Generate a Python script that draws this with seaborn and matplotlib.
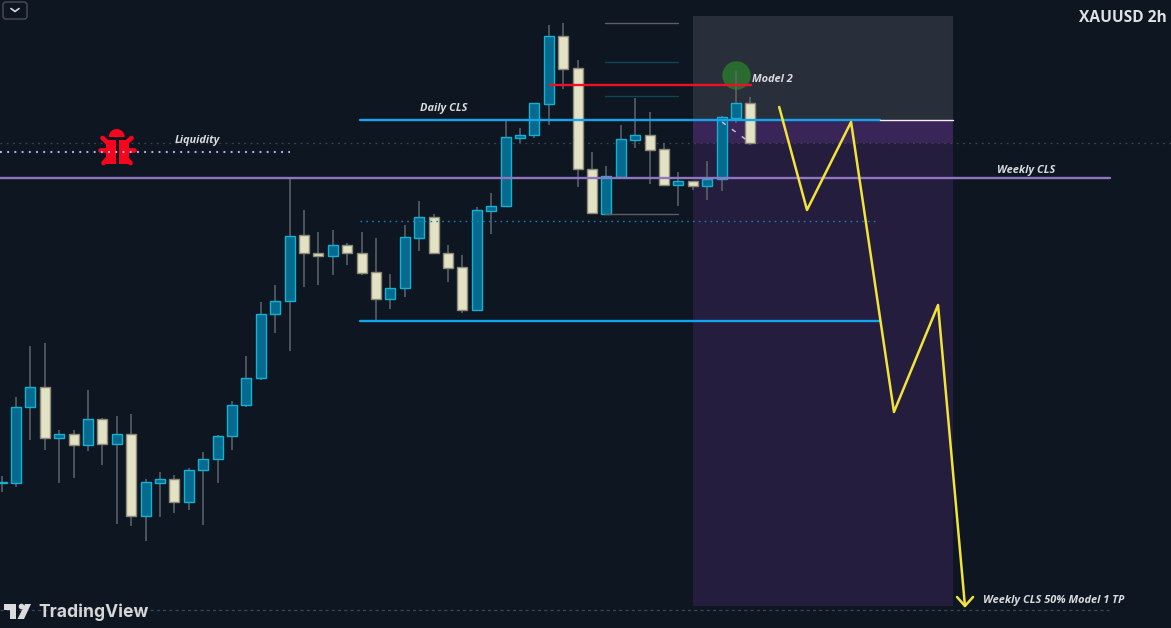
import pandas as pd
import matplotlib.pyplot as plt
import seaborn as sns
from matplotlib.patches import Rectangle, Wedge, Polygon, FancyBboxPatch

# candles (chart level grows downwards, like the screen)
body_top = [482, 406.7, 387, 386.7, 433.7, 433.7, 419.3, 419.3, 433.7, 433.7, 482.3, 478.7, 478.7, 470,
            459.3, 435.7, 405, 378.3, 314, 301.3, 235.7, 235.3, 252.7, 245.3, 245.3, 252.7, 272.3, 287.7,
            237.3, 217.3, 217.3, 252.7, 267.3, 210.3, 206, 137.3, 134.7, 103.3, 36.3, 36.3, 68, 168.7,
            176.3, 139.3, 135.3, 135.3, 149.3, 180.7, 180.7, 179, 117.3, 103.3, 103]
body_bot = [483, 482.7, 407, 437.7, 437.7, 445, 444.7, 444, 444, 516, 516, 482.7, 501.7, 501.7,
            470, 459.3, 435.7, 405, 378.3, 314.3, 301.3, 253.3, 255.7, 255.7, 253, 273, 299, 299,
            288, 237.7, 253.3, 267.7, 310, 309.7, 210.7, 206.3, 137.7, 135.3, 103.7, 68.7, 169.3, 213.3,
            213.7, 176.7, 139.7, 149.7, 184.7, 184.7, 185.7, 185.7, 179.3, 117.7, 143.3]
wick_top = [476, 397, 346, 343, 430, 430, 390, 418, 416, 414, 479.3, 472.3, 475, 468,
            452.3, 435, 401, 356, 302.3, 285.3, 178, 210.3, 232, 230.3, 242.7, 232, 238.3, 274,
            225.3, 201.3, 214.3, 245, 255, 207.3, 193, 120, 128.3, 103.3, 25.3, 23.3, 60, 151.7,
            166, 125.3, 98.3, 112.3, 143.3, 171.7, 180.7, 161.3, 116, 70.7, 96.7]
wick_bot = [492, 486.7, 440, 450, 483, 477.7, 450.7, 465, 523.7, 526, 540.7, 517, 512.7, 510,
            525.3, 483, 449.7, 406.7, 380, 333.3, 350.7, 286.7, 284.7, 274.7, 265, 274.7, 320.7, 309,
            296.7, 250.7, 253.3, 282, 312.7, 309.7, 233.7, 206.7, 143.3, 138, 124.7, 89.3, 187.3, 214,
            213.7, 178.3, 147.7, 183.7, 184.7, 205.7, 190, 200, 191, 122.7, 145]
direction = ["up", "up", "up", "down", "up", "down", "up", "down", "up", "down", "up", "up", "down", "up",
             "up", "up", "up", "up", "up", "up", "up", "down", "down", "up", "down", "down", "down", "up",
             "up", "up", "down", "down", "down", "up", "up", "up", "up", "up", "up", "down", "down", "down",
             "up", "up", "up", "down", "down", "up", "down", "up", "up", "up", "down"]

# drawings on the chart: bar number for x, chart level for y
daily_cls_x = [24.9, 61.0]
daily_cls_y = [120, 120]
daily_white_x = [61.0, 66.07]
low_cls_y = [321, 321]
mid_dot_x = [24.9, 60.8]
mid_dot_y = [221, 221]
weekly_cls_x = [-0.11, 77.0]
weekly_cls_y = [178, 178]
liquidity_x = [-0.11, 20.0]
liquidity_y = [152, 152]
faint_top_x = [-0.11, 81.2]
faint_top_y = [143, 143]
faint_bot_x = [-0.11, 76.9]
faint_bot_y = [609.5, 609.5]
red_x = [38.1, 52.04]
red_y = [85, 85]
fib_x = [41.9, 47.0]
fib_grey = [23, 214]
fib_teal = [62, 96]
path_x = [54.0, 55.93, 58.99, 61.97, 65.03, 66.9]
path_y = [107, 210, 122, 412, 305, 606]
arrow_x = [66.35, 66.9, 67.46]
arrow_y = [597, 606, 597]
drop_x = [50.03, 51.83]
drop_y = [122, 141]
zone_x = [48.01, 66.07]
zone_top = [16, 120, 143, 606]
circle_x = [51.0]
circle_y = [75]

BG = "#0e1621"
BLUE, BLUE_EDGE = "#056a8e", "#10b2d6"
CREAM, CREAM_EDGE = "#e3e2c4", "#8a8a78"
WICK = "#5f656f"
LABEL = "#d8dade"

sns.set_theme(style="dark", rc={"axes.facecolor": BG, "figure.facecolor": BG})
plt.rcParams["font.family"] = ["Open Sans", "DejaVu Sans"]

df = pd.DataFrame({"bar": range(len(body_top)), "top": body_top, "bot": body_bot,
                   "hi": wick_top, "lo": wick_bot, "dir": direction})
df["height"] = df["bot"] - df["top"]

fig = plt.figure(figsize=(11.71, 6.28), dpi=100)
ax = fig.add_axes([0, 0, 1, 1])


def line(x, y, color, lw=1.5, z=4, **kw):
    sns.lineplot(x=x, y=y, ax=ax, color=color, lw=lw, sort=False, estimator=None,
                 legend=False, zorder=z, **kw)


# zone behind the candles
zw = zone_x[1] - zone_x[0]
for i, c in enumerate(["#282f3a", "#3a2558", "#241d3e"]):
    ax.add_patch(Rectangle((zone_x[0], zone_top[i]), zw, zone_top[i + 1] - zone_top[i],
                           color=c, lw=0, zorder=0))

line(faint_top_x, faint_top_y, "#3b4250", lw=0.9, z=1, linestyle=(0, (1.5, 3.5)))
line(faint_bot_x, faint_bot_y, "#3c4560", lw=0.9, z=1, linestyle=(0, (2.5, 2.5)))
sns.scatterplot(x=circle_x, y=circle_y, ax=ax, s=420, color="#2a6b2f", linewidth=0, zorder=1, legend=False)

# wicks then bodies
ax.vlines(df["bar"], df["hi"], df["lo"], color=WICK, lw=1.1, zorder=2)
for d, fill, edge in [("up", BLUE, BLUE_EDGE), ("down", CREAM, CREAM_EDGE)]:
    sub = df[df["dir"] == d]
    sns.barplot(data=sub, x="bar", y="height", bottom=sub["top"].values, native_scale=True, width=0.7,
                color=fill, saturation=1, edgecolor=edge, linewidth=1.0, errorbar=None, ax=ax, zorder=3)

# levels
line(daily_cls_x, daily_cls_y, "#12a5ee", lw=1.7)
line(daily_white_x, daily_cls_y, "#f2f2f2", lw=1.0)
line(daily_cls_x, low_cls_y, "#12a5ee", lw=1.7)
line(mid_dot_x, mid_dot_y, "#0f7fb8", lw=1.0, linestyle=(0, (1.2, 3)))
line(weekly_cls_x, weekly_cls_y, "#9075c0", lw=1.7)
line(red_x, red_y, "#ee1026", lw=1.7, z=5)
for lv in fib_grey:
    line(fib_x, [lv, lv], "#5b6068", lw=1.0)
for lv in fib_teal:
    line(fib_x, [lv, lv], "#0f4655", lw=1.0)
line(drop_x, drop_y, "#c9b8d6", lw=1.1, z=5, linestyle=(0, (3, 5)))
line(path_x, path_y, "#f2e33a", lw=1.8, z=6)
line(arrow_x, arrow_y, "#f2e33a", lw=1.8, z=6)

ax.set_xlim(-1.6 / 14.4, (1171 - 1.6) / 14.4)
ax.set_ylim(628, 0)
ax.set_xlabel("")
ax.set_ylabel("")
ax.set_xticks([])
ax.set_yticks([])
ax.grid(False)
sns.despine(ax=ax, left=True, bottom=True)

# bits of screen furniture, placed in pixels
ov = fig.add_axes([0, 0, 1, 1], facecolor="none")
ov.set_xlim(0, 1171)
ov.set_ylim(628, 0)
ov.axis("off")

RED = "#f5051e"
ov.add_patch(Wedge((116.7, 137), 8, 180, 360, color=RED, lw=0))
ov.add_patch(Rectangle((106, 140), 10, 23.5, color=RED, lw=0))
ov.add_patch(Rectangle((118.7, 140), 10, 23.5, color=RED, lw=0))
for xs, ys in [([102.5, 108], [138, 143]), ([131.5, 126], [138, 143]), ([100, 107], [150, 150]),
               ([128, 134], [150, 150]), ([103.5, 109], [163, 157]), ([130.5, 125], [163, 157])]:
    ov.plot(xs, ys, color=RED, lw=3.4, solid_capstyle="round")
ov.plot([0, 290], [152, 152], color="#b5b5e0", lw=1.5, linestyle=(0, (0.9, 2.56)))

txt = dict(color=LABEL, fontsize=7.9, fontweight="bold", style="italic", va="center")
ov.text(175, 141, "Liquidity", **txt)
ov.text(420, 108, "Daily CLS", **txt)
ov.text(752, 79, "Model 2", **txt)
ov.text(997, 170.5, "Weekly CLS", **txt)
ov.text(983, 600, "Weekly CLS 50% Model 1 TP", **txt)
ov.text(1167, 18, "XAUUSD 2h", color="#dfe1e5", fontsize=11.2, fontweight="bold", ha="right", va="center")

# collapse button
ov.add_patch(FancyBboxPatch((3, 2), 24, 17, boxstyle="round,pad=0,rounding_size=3",
                            fc=BG, ec="#4a4f59", lw=1))
ov.plot([11, 15, 19], [8.5, 11.5, 8.5], color="#d8d8d8", lw=1.2)

# watermark
ov.add_patch(Polygon([(4, 604), (16, 604), (16, 619), (10, 619), (10, 609.5), (4, 609.5)], color="#dcdcdc", lw=0))
ov.add_patch(Wedge((21.5, 606.5), 2.8, 0, 360, color="#dcdcdc", lw=0))
ov.add_patch(Polygon([(25, 604), (31, 604), (24, 619), (17.5, 619)], color="#dcdcdc", lw=0))
ov.text(38, 612, "TradingView", color="#d6d6d6", fontsize=12.6, fontweight="bold",
        family=["Inter", "DejaVu Sans"], va="center")

fig.savefig("out.png", dpi=100, facecolor=BG)
